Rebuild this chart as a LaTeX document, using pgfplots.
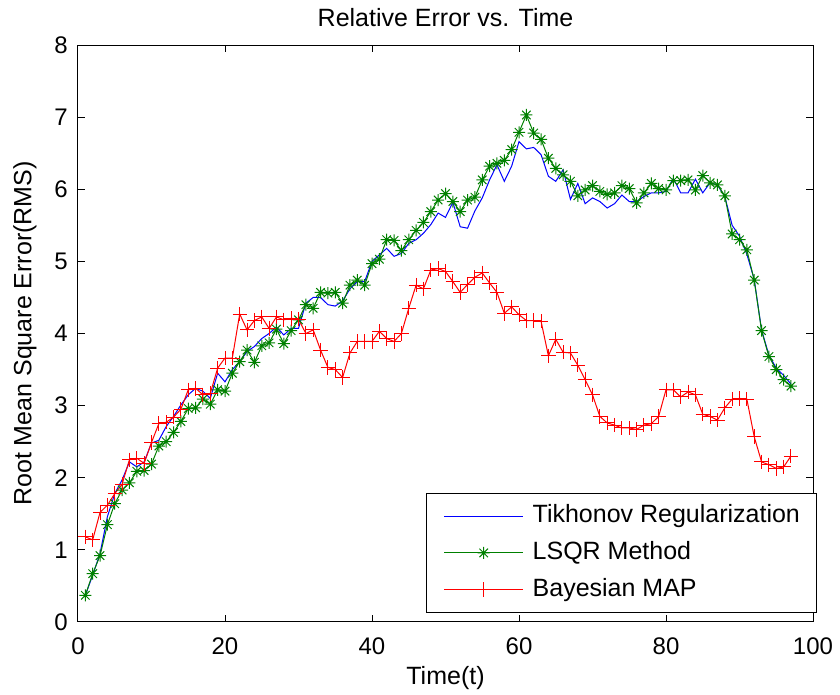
\documentclass[border=0pt]{standalone}
\usepackage{pgfplots}
\usepackage{pgfplotstable}
\pgfplotsset{compat=1.18}
\usepackage{fontspec}
\setmainfont{Liberation Sans}
\pgfdeclareplotmark{mstar}{%
 \pgfpathmoveto{\pgfqpoint{-\pgfplotmarksize}{0pt}}\pgfpathlineto{\pgfqpoint{\pgfplotmarksize}{0pt}}%
 \pgfpathmoveto{\pgfqpoint{0pt}{-\pgfplotmarksize}}\pgfpathlineto{\pgfqpoint{0pt}{\pgfplotmarksize}}%
 \pgfpathmoveto{\pgfqpoint{-.707\pgfplotmarksize}{-.707\pgfplotmarksize}}\pgfpathlineto{\pgfqpoint{.707\pgfplotmarksize}{.707\pgfplotmarksize}}%
 \pgfpathmoveto{\pgfqpoint{-.707\pgfplotmarksize}{.707\pgfplotmarksize}}\pgfpathlineto{\pgfqpoint{.707\pgfplotmarksize}{-.707\pgfplotmarksize}}%
 \pgfusepathqstroke}
\definecolor{mblue}{rgb}{0,0,1}
\definecolor{mgreen}{rgb}{0,0.5,0}
\definecolor{mred}{rgb}{1,0,0}
\pgfplotstableread{
t blue green red
1 0.37 0.37 1.18
2 0.65 0.67 1.14
3 0.95 0.92 1.52
4 1.46 1.35 1.62
5 1.78 1.64 1.78
6 1.97 1.83 1.91
7 2.22 1.93 2.25
8 2.15 2.09 2.27
9 2.22 2.10 2.20
10 2.48 2.19 2.49
11 2.52 2.44 2.75
12 2.71 2.50 2.77
13 2.85 2.63 2.84
14 3.01 2.78 2.95
15 3.15 2.96 3.22
16 3.24 2.97 3.24
17 3.20 3.09 3.15
18 3.10 3.02 3.17
19 3.45 3.22 3.52
20 3.33 3.20 3.66
21 3.50 3.45 3.66
22 3.61 3.61 4.27
23 3.75 3.77 4.05
24 3.82 3.60 4.18
25 3.93 3.83 4.23
26 4.00 3.87 4.07
27 4.09 4.06 4.23
28 3.98 3.86 4.19
29 4.07 4.04 4.21
30 4.07 4.19 4.20
31 4.42 4.40 4.00
32 4.50 4.35 4.05
33 4.50 4.57 3.77
34 4.40 4.56 3.53
35 4.38 4.57 3.50
36 4.45 4.42 3.39
37 4.62 4.67 3.73
38 4.72 4.74 3.89
39 4.72 4.67 3.89
40 5.00 4.97 3.89
41 5.09 5.03 4.03
42 5.18 5.30 3.93
43 5.07 5.29 3.89
44 5.11 5.15 4.00
45 5.25 5.30 4.35
46 5.30 5.43 4.67
47 5.39 5.54 4.62
48 5.51 5.69 4.88
49 5.67 5.85 4.90
50 5.61 5.94 4.86
51 5.82 5.83 4.72
52 5.48 5.69 4.57
53 5.46 5.85 4.68
54 5.70 5.89 4.78
55 5.88 6.13 4.84
56 6.13 6.32 4.70
57 6.34 6.36 4.57
58 6.11 6.40 4.28
59 6.32 6.55 4.37
60 6.66 6.79 4.26
61 6.56 7.03 4.18
62 6.58 6.78 4.18
63 6.48 6.69 4.17
64 6.18 6.43 3.69
65 6.11 6.29 3.92
66 6.27 6.20 3.74
67 5.86 6.11 3.73
68 6.08 5.91 3.56
69 5.80 5.99 3.36
70 5.88 6.05 3.15
71 5.83 5.97 2.85
72 5.74 5.93 2.76
73 5.80 5.95 2.73
74 5.92 6.05 2.69
75 5.83 6.01 2.69
76 5.83 5.81 2.67
77 5.90 5.95 2.73
78 5.95 6.08 2.75
79 5.95 6.01 2.85
80 5.97 5.99 3.22
81 6.15 6.12 3.22
82 5.95 6.12 3.12
83 5.95 6.13 3.19
84 6.14 5.99 3.15
85 5.95 6.19 2.88
86 6.09 6.09 2.85
87 6.06 6.06 2.80
88 5.90 5.91 2.97
89 5.50 5.38 3.09
90 5.35 5.30 3.10
91 5.10 5.16 3.09
92 4.75 4.74 2.57
93 4.05 4.04 2.22
94 3.70 3.68 2.18
95 3.52 3.50 2.13
96 3.42 3.36 2.15
97 3.30 3.27 2.30
}\data
\begin{document}
\begin{tikzpicture}
\path[use as bounding box] (-39pt,-36.5pt) rectangle (381pt,311pt);
\begin{axis}[
  at={(0pt,0pt)}, anchor=south west,
  scale only axis, width=367.5pt, height=288.5pt,
  xmin=0, xmax=100, ymin=0, ymax=8,
  xtick={0,20,40,60,80,100}, ytick={0,1,2,3,4,5,6,7,8},
  tick align=inside, major tick length=3.5pt,
  xtick pos=both, ytick pos=both,
  axis line style={line width=0.5pt},
  tick style={line width=0.5pt, black},
  /pgf/number format/assume math mode=true,
  tick label style={font=\fontsize{12}{14}\selectfont},
  xticklabel style={anchor=north, inner sep=0pt, yshift=-7.5pt},
  yticklabel style={anchor=east, inner sep=0pt, xshift=-5pt},
  title={Relative Error vs. Time},
  title style={font=\fontsize{12.5}{15}\selectfont, at={(axis description cs:0.5,1.047)}, anchor=center, yshift=-6pt},
  xlabel={Time(t)},
  xlabel style={font=\fontsize{12.5}{15}\selectfont, at={(axis description cs:0.5,-0.097)}, anchor=center},
  ylabel={Root Mean Square Error(RMS)},
  ylabel style={font=\fontsize{12.5}{15}\selectfont, at={(axis description cs:-0.0721,0.5)}, anchor=center, rotate=0},
  legend cell align=left,
  legend style={at={(axis description cs:1.0054,0.0173)}, anchor=south east, outer sep=0pt,
    font=\fontsize{12.5}{15}\selectfont, draw=black, line width=0.5pt,
    inner xsep=8.5pt, inner ysep=5.5pt, row sep=6.8pt, column sep=4.5pt,
    nodes={inner sep=0pt, text height=9pt, text depth=2.5pt}},
  legend image code/.code={\draw[mark repeat=2,mark phase=2,#1] plot coordinates {(0pt,0pt) (19.75pt,0pt) (39.5pt,0pt)};},
]
\addplot[mblue, line width=0.5pt, mark=none] table[x=t, y=blue] {\data};
\addlegendentry{Tikhonov Regularization}
\addplot[mgreen, line width=0.5pt, mark=mstar, mark size=3pt, mark options={line width=0.5pt}] table[x=t, y=green] {\data};
\addlegendentry{LSQR Method}
\addplot[mred, line width=0.5pt, mark=+, mark size=3.6pt, mark options={line width=0.5pt}] table[x=t, y=red] {\data};
\addlegendentry{Bayesian MAP}
\end{axis}
\end{tikzpicture}
\end{document}
